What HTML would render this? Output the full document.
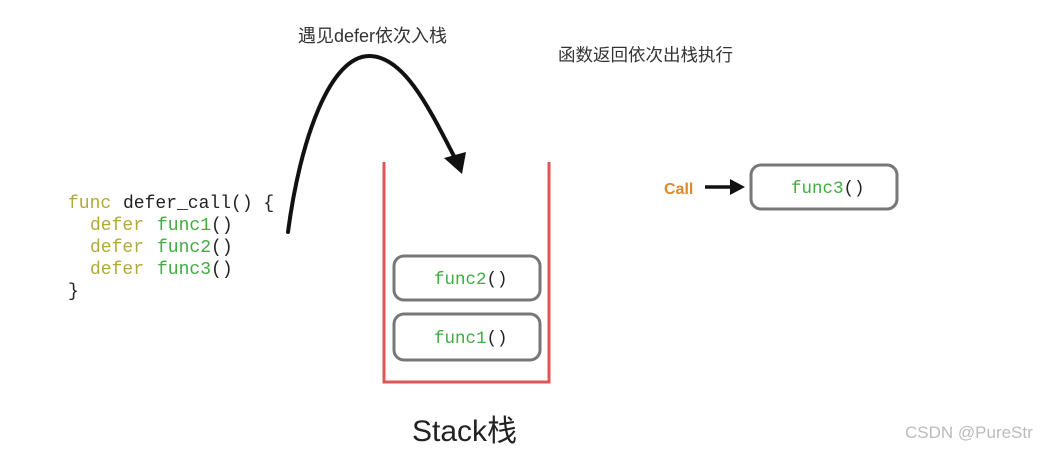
<!DOCTYPE html>
<html><head><meta charset="utf-8"><style>
html,body{margin:0;padding:0;background:#fff;width:1055px;height:449px;overflow:hidden}
</style></head><body>
<svg width="1055" height="449" viewBox="0 0 1055 449" xmlns="http://www.w3.org/2000/svg">
<text x="298" y="42" font-family="Liberation Sans, Noto Sans CJK SC, sans-serif" font-size="18" fill="#333">遇见defer依次入栈</text>
<text x="558" y="61" font-family="Liberation Sans, Noto Sans CJK SC, sans-serif" font-size="17.5" fill="#333">函数返回依次出栈执行</text>
<path d="M288,232 C300,140 330,55 370,56 C405,57 430,110 456,160" fill="none" stroke="#111" stroke-width="4" stroke-linecap="round"/>
<polygon points="444,158 466,152 462,174" fill="#111"/>
<g font-family="Liberation Mono, DejaVu Sans Mono, monospace" font-size="18">
<text x="68" y="208"><tspan fill="#b0aa3a">func</tspan><tspan fill="#222" x="123">defer_call() {</tspan></text>
<text x="90" y="230"><tspan fill="#b0aa3a">defer</tspan><tspan fill="#3fae3f" x="157">func1</tspan><tspan fill="#222">()</tspan></text>
<text x="90" y="252"><tspan fill="#b0aa3a">defer</tspan><tspan fill="#3fae3f" x="157">func2</tspan><tspan fill="#222">()</tspan></text>
<text x="90" y="274"><tspan fill="#b0aa3a">defer</tspan><tspan fill="#3fae3f" x="157">func3</tspan><tspan fill="#222">()</tspan></text>
<text x="68" y="296" fill="#222">}</text>
</g>
<path d="M384,162 V382 H549 V162" fill="none" stroke="#e05555" stroke-width="3"/>
<rect x="394" y="256" width="146" height="44" rx="10" fill="none" stroke="#777" stroke-width="3"/>
<rect x="394" y="314" width="146" height="46" rx="10" fill="none" stroke="#777" stroke-width="3"/>
<rect x="751" y="165" width="146" height="44" rx="10" fill="none" stroke="#777" stroke-width="3"/>
<g font-family="Liberation Mono, DejaVu Sans Mono, monospace" font-size="17.5">
<text x="434" y="284"><tspan fill="#3fae3f">func2</tspan><tspan fill="#222">()</tspan></text>
<text x="434" y="343"><tspan fill="#3fae3f">func1</tspan><tspan fill="#222">()</tspan></text>
<text x="791" y="193"><tspan fill="#3fae3f">func3</tspan><tspan fill="#222">()</tspan></text>
</g>
<text x="664" y="194" font-family="Liberation Sans, sans-serif" font-size="16" font-weight="bold" fill="#e08a25">Call</text>
<line x1="705" y1="187" x2="734" y2="187" stroke="#111" stroke-width="3.5"/>
<polygon points="730,179 745,187 730,195" fill="#111"/>
<text x="412" y="441" font-family="Liberation Sans, Noto Sans CJK SC, sans-serif" font-size="30" fill="#222">Stack栈</text>
<text x="905" y="438" font-family="Liberation Sans, sans-serif" font-size="17" fill="#bbb">CSDN @PureStr</text>
</svg>
</body></html>
